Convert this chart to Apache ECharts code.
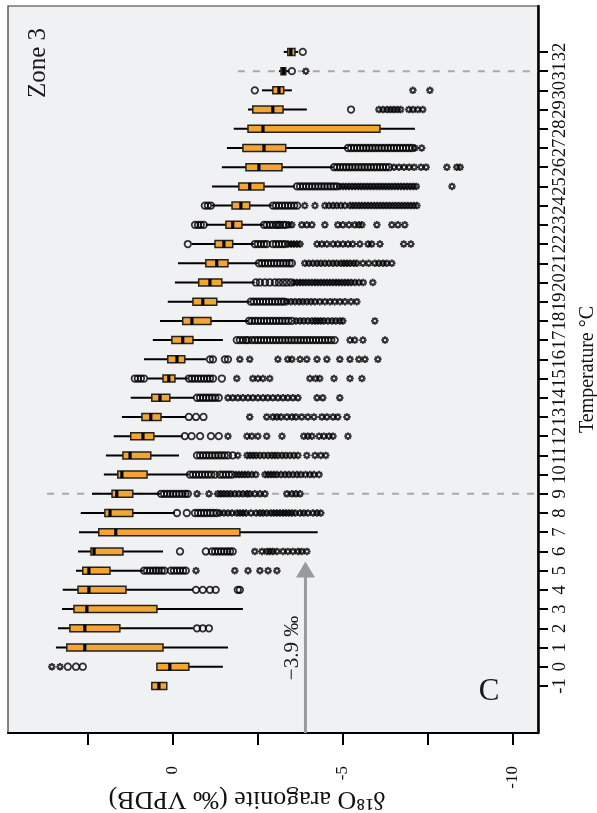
<!DOCTYPE html>
<html>
<head>
<meta charset="utf-8">
<script src="https://cdn.jsdelivr.net/npm/echarts@6/dist/echarts.min.js"></script>
<style>
  html, body { margin: 0; padding: 0; background: #fff; }
  #chart { width: 597px; height: 813px; }
</style>
</head>
<body>
<div id="chart"></div>
<script>
// Temperature classes (°C) and the box statistics of δ18O aragonite (‰ VPDB) in each class
const temperatures = [-1, 0, 1, 2, 3, 4, 5, 6, 7, 8, 9, 10, 11, 12, 13, 14, 15, 16,
  17, 18, 19, 20, 21, 22, 23, 24, 25, 26, 27, 28, 29, 30, 31, 32];

const upperWhisker = [0.62, 0.47, 3.44, 3.38, 3.26, 3.24, 2.85, 2.79, 2.76, 2.71, 2.38, 2.03,
  1.97, 1.74, 1.50, 1.24, 0.74, 0.85, 0.59, 0.38, 0.15, -0.06, -0.15, -0.56, -0.97, -1.15,
  -1.15, -1.44, -1.59, -1.79, -2.21, -2.62, -3.12, -3.26];

const upperQuartile = [0.62, 0.47, 3.12, 3.03, 2.91, 2.79, 2.65, 2.41, 2.18, 2.00, 1.79, 1.62,
  1.47, 1.24, 0.91, 0.62, 0.29, 0.15, 0.03, -0.29, -0.59, -0.76, -0.97, -1.24, -1.56, -1.74,
  -1.94, -2.15, -2.06, -2.21, -2.35, -2.94, -3.18, -3.38];

const medians = [0.41, 0.09, 2.59, 2.59, 2.53, 2.47, 2.47, 2.32, 1.68, 1.85, 1.65, 1.50,
  1.26, 0.88, 0.65, 0.38, 0.12, -0.12, -0.29, -0.56, -0.88, -1.09, -1.29, -1.50, -1.76, -2.00,
  -2.26, -2.53, -2.68, -2.65, -2.94, -3.12, -3.25, -3.47];

const lowerQuartile = [0.18, -0.47, 0.29, 1.56, 0.47, 1.38, 1.85, 1.47, -1.97, 1.18, 1.18, 0.76,
  0.65, 0.56, 0.35, 0.09, -0.06, -0.35, -0.59, -1.12, -1.29, -1.44, -1.62, -1.76, -2.03, -2.26,
  -2.68, -3.21, -3.32, -6.09, -3.24, -3.26, -3.32, -3.59];

const lowerWhisker = [0.18, -1.47, -1.62, -0.59, -2.06, -0.59, 0.88, 0.29, -4.26, -0.06, 0.38, -0.47,
  -0.18, -0.29, -0.38, -0.62, -0.44, -0.97, -1.47, -2.21, -2.26, -2.41, -2.50, -2.38, -2.65, -2.91,
  -3.59, -4.71, -5.12, -7.12, -3.94, -3.50, -3.41, -3.68];

// Outliers (circles), one list per temperature class
const outlierValues = [
  [],
  [3.09, 2.85, 2.65],
  [],
  [-0.71, -0.88, -1.06],
  [],
  [-0.68, -0.88, -1.09, -1.26, -1.91, -1.97],
  [0.85, 0.76, 0.67, 0.58, 0.50, 0.42, 0.33, 0.25, 0.06, -0.03, -0.12, -0.21, -0.30, -0.38],
  [-0.21, -0.97, -1.15, -1.24, -1.33, -1.42, -1.51, -1.60, -1.68, -1.76],
  [],
  [-0.12, -0.41, -0.65, -0.74, -0.83, -0.92, -1.01, -1.10, -1.19, -1.29],
  [0.35, 0.26, 0.17, 0.08, -0.01, -0.10, -0.19, -0.28, -0.37, -0.44],
  [-0.50, -0.59, -0.68, -0.77, -0.86, -0.95, -1.04, -1.13, -1.24, -1.38, -1.47, -1.56, -1.65, -1.74],
  [-0.71, -0.80, -0.89, -0.98, -1.07, -1.16, -1.25, -1.34, -1.43, -1.52, -1.62, -1.76],
  [-0.35, -0.55, -0.80, -1.12, -1.35],
  [-0.47, -0.68, -0.90],
  [-0.71, -0.80, -0.89, -0.98, -1.07, -1.16, -1.25, -1.35],
  [1.12, 1.03, 0.94, 0.85, -0.47, -0.56, -0.65, -0.74, -0.83, -0.92, -1.01, -1.09, -1.18, -1.44],
  [-1.09, -1.18, -1.53, -1.62],
  [-1.88, -1.97, -2.06, -2.15, -2.21, -2.32, -2.41, -2.50, -2.59, -2.68, -2.77, -2.86, -2.95, -3.04,
   -3.13, -3.22, -3.31, -3.40, -3.49, -3.58, -3.67, -3.76, -3.85, -3.94, -4.03, -4.12, -4.21, -4.30,
   -4.39, -4.48, -4.57, -4.66, -4.76],
  [-2.24, -2.32, -2.41, -2.50, -2.59, -2.68, -2.77, -2.86, -2.95, -3.04, -3.13, -3.22, -3.31, -3.40, -3.50],
  [-2.29, -2.38, -2.47, -2.56, -2.65, -2.74, -2.83, -2.92, -3.01, -3.10, -3.19, -3.27],
  [-2.44, -2.56, -2.71, -2.85, -3.00, -3.12, -3.24, -3.35, -3.47],
  [-2.53, -2.62, -2.71, -2.80, -2.89, -2.98, -3.07, -3.16, -3.25, -3.34, -3.43, -3.50],
  [-0.44, -2.41, -2.50, -2.59, -2.68, -2.76, -2.94, -3.03, -3.12, -3.21, -3.30],
  [-0.65, -0.74, -0.82, -0.91, -2.68, -2.76, -2.85, -2.94, -3.03, -3.09, -3.15, -3.24, -3.32],
  [-0.94, -1.03, -1.12, -2.94, -3.03, -3.12, -3.21, -3.30, -3.39, -3.48, -3.57, -3.66],
  [-3.65, -3.74, -3.83, -3.92, -4.01, -4.10, -4.19, -4.28, -4.37, -4.46, -4.55, -4.64, -4.73, -4.82],
  [-4.74, -4.83, -4.92, -5.01, -5.10, -5.19, -5.28, -5.37, -5.46, -5.55, -5.64, -5.73, -5.82, -5.91,
   -6.00, -6.09, -6.18, -6.27, -6.36],
  [-5.15, -5.24, -5.33, -5.42, -5.51, -5.60, -5.69, -5.78, -5.87, -5.96, -6.05, -6.14, -6.23, -6.32,
   -6.41, -6.50, -6.59, -6.68, -6.77, -6.86, -6.95, -7.04],
  [],
  [-5.24],
  [-2.41],
  [-3.50],
  [-3.82]
];

// Extreme values (asterisks), one list per temperature class
const extremeValues = [
  [],
  [3.56, 3.32],
  [],
  [],
  [],
  [],
  [-0.68, -1.82, -2.21, -2.56, -2.80, -3.06],
  [-2.41, -2.62, -2.76, -2.85, -2.94, -3.06, -3.24, -3.38, -3.53, -3.68, -3.79, -3.94],
  [],
  [-1.38, -1.50, -1.62, -1.74, -1.88, -1.97, -2.06, -2.15, -2.30, -2.45, -2.56, -2.65, -2.76, -2.88,
   -2.97, -3.06, -3.15, -3.24, -3.32, -3.41, -3.50, -3.60, -3.74, -3.85, -3.97, -4.12, -4.24, -4.35],
  [-0.71, -1.06, -1.32, -1.41, -1.50, -1.60, -1.70, -1.82, -1.94, -2.06, -2.18, -2.26, -2.41, -2.56,
   -2.71, -3.35, -3.50, -3.62, -3.74],
  [-1.85, -1.94, -2.03, -2.12, -2.21, -2.32, -2.44, -2.71, -2.80, -2.88, -2.97, -3.06, -3.18, -3.30,
   -3.41, -3.53, -3.65, -3.76, -3.90, -4.03, -4.15, -4.30],
  [-1.91, -2.18, -2.27, -2.36, -2.45, -2.56, -2.68, -2.80, -2.91, -3.00, -3.09, -3.21, -3.32, -3.44,
   -3.56, -3.68, -3.94, -4.18, -4.35, -4.50],
  [-1.62, -2.18, -2.32, -2.50, -2.76, -3.21, -3.85, -3.97, -4.09, -4.30, -4.44, -4.59, -4.71, -5.15],
  [-2.26, -2.76, -2.94, -3.06, -3.18, -3.35, -3.50, -3.62, -3.79, -3.97, -4.15, -4.38, -4.53, -4.71,
   -4.85, -5.12],
  [-1.62, -1.76, -1.91, -2.06, -2.21, -2.35, -2.50, -2.65, -2.79, -2.94, -3.09, -3.24, -3.38, -3.53,
   -3.68, -4.24, -4.41, -4.91],
  [-1.88, -2.35, -2.50, -2.65, -2.85, -4.03, -4.20, -4.32, -4.74, -5.21, -5.56],
  [-1.97, -2.26, -3.09, -3.38, -3.50, -3.74, -3.94, -4.24, -4.53, -4.91, -5.21, -5.47, -5.65, -6.03],
  [-5.21, -5.35, -5.59, -6.24],
  [-3.62, -3.74, -3.85, -3.97, -4.09, -4.18, -4.26, -4.35, -4.44, -4.56, -4.68, -4.79, -4.91, -5.00, -5.94],
  [-3.35, -3.47, -3.59, -3.71, -3.82, -3.94, -4.06, -4.18, -4.32, -4.47, -4.62, -4.76, -4.91, -5.06,
   -5.24, -5.41],
  [-3.56, -3.65, -3.74, -3.82, -3.91, -4.00, -4.09, -4.18, -4.26, -4.35, -4.44, -4.53, -4.62, -4.71,
   -4.80, -4.88, -4.97, -5.06, -5.15, -5.24, -5.35, -5.47, -5.60, -5.88],
  [-3.88, -4.00, -4.12, -4.24, -4.35, -4.47, -4.59, -4.71, -4.82, -4.94, -5.03, -5.12, -5.21, -5.32,
   -5.41, -5.59, -5.76, -5.94, -6.06, -6.18, -6.29, -6.44],
  [-3.39, -3.48, -3.56, -3.65, -3.74, -4.24, -4.38, -4.53, -4.71, -4.85, -5.00, -5.15, -5.29, -5.50,
   -5.74, -5.85, -6.09, -6.79, -7.00],
  [-3.41, -3.50, -3.79, -3.94, -4.09, -4.47, -4.85, -5.00, -5.18, -5.35, -5.47, -5.56, -6.00, -6.44,
   -6.62, -6.82],
  [-3.88, -4.18, -4.47, -4.59, -4.71, -4.82, -4.94, -5.06, -5.21, -5.29, -5.38, -5.47, -5.56, -5.65,
   -5.74, -5.83, -5.92, -6.01, -6.10, -6.19, -6.28, -6.37, -6.46, -6.55, -6.64, -6.73, -6.82, -6.91,
   -7.00, -7.09, -7.18],
  [-4.91, -5.00, -5.09, -5.18, -5.27, -5.36, -5.45, -5.54, -5.63, -5.72, -5.81, -5.90, -5.99, -6.08,
   -6.17, -6.26, -6.35, -6.44, -6.53, -6.62, -6.71, -6.80, -6.89, -6.98, -7.07, -7.16, -8.21],
  [-6.50, -6.65, -6.80, -6.95, -7.10, -7.30, -7.45, -8.06, -8.35, -8.45],
  [-7.12, -7.32],
  [],
  [-6.06, -6.18, -6.30, -6.40, -6.50, -6.60, -6.70, -6.94, -7.06, -7.20, -7.35],
  [-7.06, -7.56],
  [-3.91],
  []
];

// Axis ticks and labels
const isotopeTicks = [2.5, 0, -2.5, -5, -7.5, -10];
const isotopeLabels = [0, -5, -10];

// Zone boundaries (dashed) and the marked δ18O value
const zoneBreaks = [
  { temperature: 9, from: 3.7 },
  { temperature: 31, from: -1.91 }
];
const markedValue = -3.9;
const markedTopTemperature = 5.06;

const ISO_MIN = -10.74, ISO_MAX = 4.85;
const T_MIN = -3.45, T_MAX = 34.39;
const SERIF = '"Liberation Serif", "Times New Roman", serif';

const boxData = temperatures.map((t, i) =>
  [t, upperWhisker[i], upperQuartile[i], medians[i], lowerQuartile[i], lowerWhisker[i]]);

const outlierPoints = [];
const extremePoints = [];
temperatures.forEach((t, i) => {
  outlierValues[i].forEach(v => outlierPoints.push([v, t]));
  extremeValues[i].forEach(v => extremePoints.push([v, t]));
});

// Open-centred eight-armed asterisk: eight short spokes around a small empty middle
function asteriskPath() {
  const hw = 0.26, r0 = 0.28, r1 = 1;
  let d = '';
  for (let k = 0; k < 8; k++) {
    const a = k * Math.PI / 4;
    const dx = Math.cos(a), dy = Math.sin(a);
    const px = -dy * hw, py = dx * hw;
    const pts = [
      [r0 * dx + px, r0 * dy + py], [r1 * dx + px, r1 * dy + py],
      [r1 * dx - px, r1 * dy - py], [r0 * dx - px, r0 * dy - py]
    ];
    d += 'M' + pts.map(p => p[0].toFixed(3) + ',' + p[1].toFixed(3)).join('L') + 'Z';
  }
  return 'path://' + d;
}

function renderBox(params, api) {
  const t = api.value(0);
  const pUW = api.coord([api.value(1), t]);
  const pUQ = api.coord([api.value(2), t]);
  const pMd = api.coord([api.value(3), t]);
  const pLQ = api.coord([api.value(4), t]);
  const pLW = api.coord([api.value(5), t]);
  const y = pMd[1];
  const h = 7;
  const x0 = Math.min(pUQ[0], pLQ[0]);
  const w = Math.max(Math.abs(pLQ[0] - pUQ[0]), 1);
  return {
    type: 'group',
    children: [
      { type: 'line', shape: { x1: pUW[0], y1: y, x2: pLW[0], y2: y },
        style: { stroke: '#000', lineWidth: 2 } },
      { type: 'rect', shape: { x: x0, y: y - h / 2, width: w, height: h },
        style: { fill: '#F4A431', stroke: '#222', lineWidth: 1.5 } },
      { type: 'rect', shape: { x: pMd[0] - 1.6, y: y - h / 2, width: 3.2, height: h },
        style: { fill: '#000' } }
    ]
  };
}

const chart = echarts.init(document.getElementById('chart'), null, { renderer: 'canvas' });

const series = [];
zoneBreaks.forEach(z => {
  series.push({
    type: 'line', z: 1, silent: true, symbol: 'none',
    data: [[z.from, z.temperature], [ISO_MIN, z.temperature]],
    lineStyle: { color: '#a9a9a9', width: 2, type: [7, 8] }
  });
});
series.push({
  type: 'line', z: 2, silent: true,
  data: [
    { value: [markedValue, T_MIN], symbol: 'none' },
    { value: [markedValue, markedTopTemperature], symbol: 'triangle', symbolSize: [19, 16] }
  ],
  lineStyle: { color: '#9a9a9a', width: 3 },
  itemStyle: { color: '#9a9a9a' }
});
series.push({
  type: 'custom', z: 3, silent: true,
  renderItem: renderBox,
  encode: { x: [1, 2, 3, 4, 5], y: 0 },
  data: boxData
});
series.push({
  type: 'scatter', z: 4, silent: true,
  symbol: 'circle', symbolSize: 6.5,
  itemStyle: { color: 'rgba(0,0,0,0)', borderColor: '#000', borderWidth: 1.8 },
  data: outlierPoints
});
series.push({
  type: 'scatter', z: 4, silent: true,
  symbol: asteriskPath(), symbolSize: 7.5,
  itemStyle: { color: '#000' },
  data: extremePoints
});

chart.setOption({
  animation: false,
  backgroundColor: '#fff',
  grid: {
    left: 8, top: 6, right: 59, bottom: 80,
    containLabel: false, outerBoundsMode: 'none',
    show: true, backgroundColor: '#f0f1f3', borderColor: '#333', borderWidth: 1.2
  },
  xAxis: {
    type: 'value', position: 'bottom', inverse: true,
    min: ISO_MIN, max: ISO_MAX,
    splitLine: { show: false },
    axisLine: { show: true, onZero: false, lineStyle: { color: '#000', width: 2 } },
    axisTick: { show: true, customValues: isotopeTicks, length: 12, lineStyle: { color: '#000', width: 2 } },
    axisLabel: { customValues: isotopeLabels, rotate: 90, margin: 33,
      fontFamily: SERIF, fontSize: 17, color: '#111' }
  },
  yAxis: {
    type: 'value', position: 'right',
    min: T_MIN, max: T_MAX,
    splitLine: { show: false },
    axisLine: { show: true, onZero: false, lineStyle: { color: '#000', width: 2.5 } },
    axisTick: { show: true, customValues: temperatures, length: 10, lineStyle: { color: '#000', width: 2 } },
    axisLabel: { customValues: temperatures, rotate: 90, margin: 13,
      fontFamily: SERIF, fontSize: 18.5, color: '#111' },
    name: 'Temperature °C', nameLocation: 'middle', nameRotate: 90, nameGap: 25,
    nameTextStyle: { fontFamily: SERIF, fontSize: 20, color: '#111' }
  },
  graphic: [
    { type: 'text', x: 38, y: 63, rotation: Math.PI / 2, silent: true,
      style: { text: 'Zone 3', font: '25px ' + SERIF, fill: '#1a1a1a', textAlign: 'center', textVerticalAlign: 'middle' } },
    { type: 'text', x: 489, y: 692, silent: true,
      style: { text: 'C', font: '31px ' + SERIF, fill: '#1a1a1a', textAlign: 'center', textVerticalAlign: 'middle' } },
    { type: 'text', x: 292, y: 648, rotation: Math.PI / 2, silent: true,
      style: { text: '\u22123.9 \u2030', font: '21px ' + SERIF, fill: '#1a1a1a', textAlign: 'center', textVerticalAlign: 'middle' } },
    { type: 'text', x: 247, y: 799, rotation: Math.PI, silent: true,
      style: { text: 'δ\u00B9\u2078O aragonite (\u2030 VPDB)', font: '26px ' + SERIF, fill: '#111', textAlign: 'center', textVerticalAlign: 'middle' } }
  ],
  series: series
});
</script>
</body>
</html>
